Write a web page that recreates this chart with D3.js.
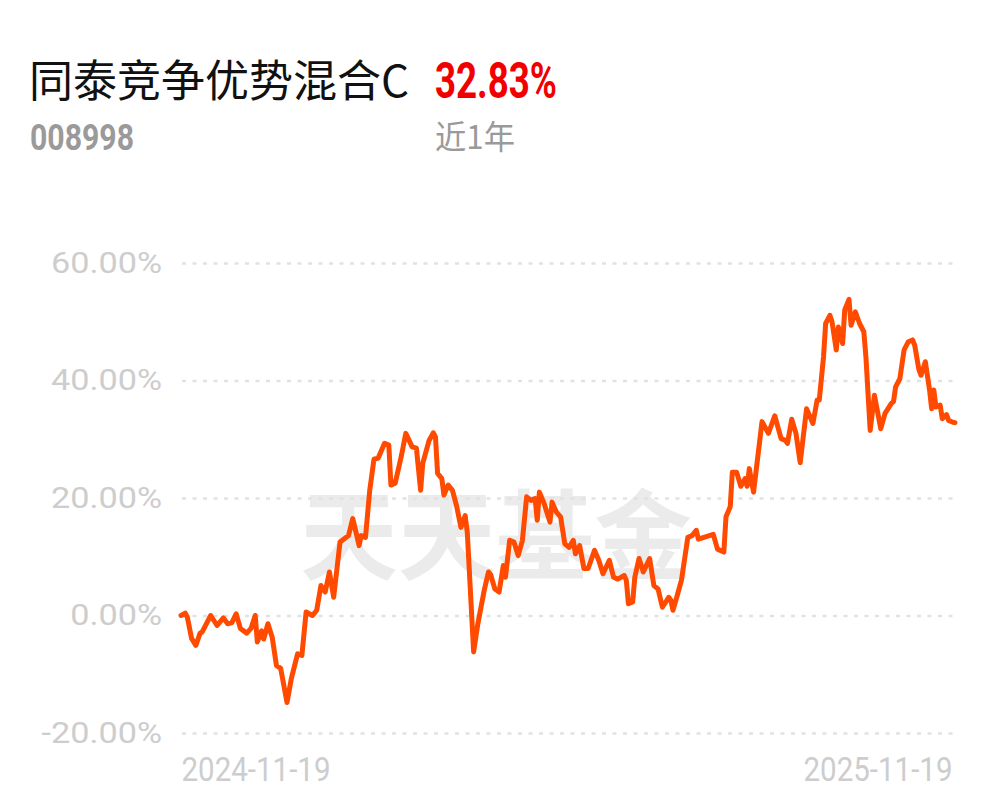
<!DOCTYPE html>
<html><head><meta charset="utf-8">
<script src="https://cdn.jsdelivr.net/npm/d3@7/dist/d3.min.js"></script>
<style>html,body{margin:0;padding:0;background:#fff;}svg{display:block;}</style>
</head><body>
<script>
const fundName = "同泰竞争优势混合C";
const fundCode = "008998";
const periodReturn = "32.83%";
const periodLabel = "近1年";
const startDate = "2024-11-19";
const endDate = "2025-11-19";
const yTicks = [-20, 0, 20, 40, 60];
const xTickLabels = ["2024-11-19", "2025-11-19"];
// days since start date
const days = [0,2,3,5,7,9,10,14,17,20,22,24,26,28,31,33,35,36,38,39,41,43,45,47,50,52,55,57,59,62,64,66,68,70,72,75,79,81,84,85,87,89,91,93,96,98,99,101,104,106,109,111,113,114,117,119,120,121,123,124,126,128,130,132,134,135,138,140,143,145,146,148,150,152,153,155,157,159,161,163,165,167,168,169,171,174,175,177,179,181,183,185,186,188,190,192,195,197,199,202,204,206,209,210,211,213,214,216,218,221,223,225,227,230,231,232,234,236,239,241,243,244,251,253,256,257,259,260,262,264,266,267,268,270,274,277,280,283,285,286,288,290,292,295,298,300,301,303,304,306,307,309,310,312,313,315,316,318,320,322,323,325,327,330,332,335,336,337,339,341,343,345,346,348,349,351,353,354,355,356,358,359,361,362,364,365];
// cumulative return (%)
const returns = [0.0,0.4,-0.3,-3.9,-5.1,-3.0,-2.8,0.0,-1.7,-0.4,-1.4,-1.2,0.3,-2.2,-3.0,-2.2,0.0,-4.5,-2.6,-4.0,-1.4,-3.7,-8.5,-9.0,-14.8,-10.8,-6.5,-6.8,0.6,0.0,0.9,5.1,4.0,7.4,3.1,12.5,13.6,16.5,11.9,13.6,13.3,21.3,26.6,26.8,29.3,29.0,22.2,22.5,27.3,31.0,28.7,28.5,21.3,25.9,29.8,31.1,30.4,24.2,23.3,20.5,22.2,21.3,18.6,15.0,17.0,14.2,-6.2,-1.4,4.3,7.4,7.0,4.5,4.0,8.5,6.5,12.8,12.5,10.2,12.8,20.2,19.6,19.9,16.2,21.0,19.3,15.9,19.3,17.6,16.8,12.2,11.6,12.8,10.5,11.9,8.0,8.0,11.1,9.4,7.1,9.4,6.5,6.2,6.8,6.0,2.0,2.3,6.5,9.7,7.4,9.7,5.1,4.5,1.4,3.1,2.6,0.9,3.4,6.0,13.3,13.6,14.5,13.0,13.8,11.3,10.8,16.8,18.5,24.4,24.4,22.0,23.3,22.0,25.0,21.0,33.0,31.0,34.0,30.1,29.8,29.3,33.4,31.0,26.0,35.2,32.7,36.7,36.7,44.0,49.7,51.1,50.0,45.2,49.1,46.3,52.0,53.8,49.4,51.7,49.7,48.3,44.0,31.5,37.5,31.8,34.4,36.1,36.4,38.9,40.3,45.2,46.6,46.9,46.0,41.8,40.9,43.2,38.4,35.2,38.4,35.5,35.8,33.5,34.2,33.2,32.9,32.83];

const W = 997, H = 802;
const svg = d3.select("body").append("svg").attr("width", W).attr("height", H);

const parse = d3.timeParse("%Y-%m-%d");
const t0 = parse(startDate), t1 = parse(endDate);
const data = days.map((d, i) => ({date: d3.timeDay.offset(t0, d), v: returns[i]}));

const x = d3.scaleTime().domain([t0, t1]).range([181, 955]);
const y = d3.scaleLinear().domain([-20, 60]).range([733, 263]);

// header
svg.append("text").attr("x", 29).attr("y", 97).text(fundName)
  .attr("font-family", "'Noto Sans CJK SC', sans-serif").attr("font-size", 44).attr("fill", "#111");
svg.append("text").attr("x", 435).attr("y", 98).text(periodReturn)
  .attr("font-family", "Roboto, sans-serif").attr("font-weight", "bold").attr("font-size", 50)
  .attr("fill", "#f20000").attr("textLength", 122).attr("lengthAdjust", "spacingAndGlyphs");
svg.append("text").attr("x", 30).attr("y", 150).text(fundCode)
  .attr("font-family", "Roboto, sans-serif").attr("font-weight", "bold").attr("font-size", 37)
  .attr("fill", "#9a9a9a").attr("textLength", 104).attr("lengthAdjust", "spacingAndGlyphs");
svg.append("text").attr("x", 435).attr("y", 149).text(periodLabel)
  .attr("font-family", "'Noto Sans CJK SC', sans-serif").attr("font-size", 33).attr("fill", "#9a9a9a")
  .attr("textLength", 80).attr("lengthAdjust", "spacingAndGlyphs");

// watermark
svg.append("text").attr("x", 496).attr("y", 572).attr("text-anchor", "middle").text("天天基金")
  .attr("font-family", "'Noto Sans CJK SC', sans-serif").attr("font-weight", "bold").attr("font-size", 98)
  .attr("fill", "#000").attr("fill-opacity", 0.08);

// y axis with gridlines
const yAxis = d3.axisLeft(y).tickValues(yTicks).tickSize(-(955 - 182)).tickPadding(20)
  .tickFormat(d => d.toFixed(2) + "%");
const gy = svg.append("g").attr("transform", "translate(182,0)").call(yAxis);
gy.select(".domain").remove();
gy.selectAll(".tick line").attr("stroke", "#e2e2e2").attr("stroke-width", 2.5).attr("stroke-dasharray", "4,6.5");
gy.selectAll(".tick text").attr("font-family", "Roboto, sans-serif").attr("font-size", 29.5).attr("fill", "#cdcdcd")
  .each(function() { const w = this.getComputedTextLength(); d3.select(this).attr("textLength", w * 1.16).attr("lengthAdjust", "spacingAndGlyphs"); });

// x axis labels
const xAxis = d3.axisBottom(x).tickValues(xTickLabels.map(parse)).tickSize(0).tickPadding(0)
  .tickFormat(d3.timeFormat("%Y-%m-%d"));
const gx = svg.append("g").attr("transform", "translate(0,781)").call(xAxis);
gx.select(".domain").remove();
gx.selectAll(".tick text").attr("font-family", "Roboto, sans-serif").attr("font-size", 33).attr("fill", "#cdcdcd")
  .attr("dy", 0).attr("y", 0)
  .attr("dx", (d, i) => i === 0 ? 0 : -3)
  .attr("text-anchor", (d, i) => i === 0 ? "start" : "end")
  .attr("textLength", 149).attr("lengthAdjust", "spacingAndGlyphs");

// line
const line = d3.line().x(d => x(d.date)).y(d => y(d.v)).curve(d3.curveLinear);
svg.append("path").datum(data).attr("d", line).attr("fill", "none")
  .attr("stroke", "#ff4a00").attr("stroke-width", 5).attr("stroke-linejoin", "round").attr("stroke-linecap", "round");
</script>
</body></html>
